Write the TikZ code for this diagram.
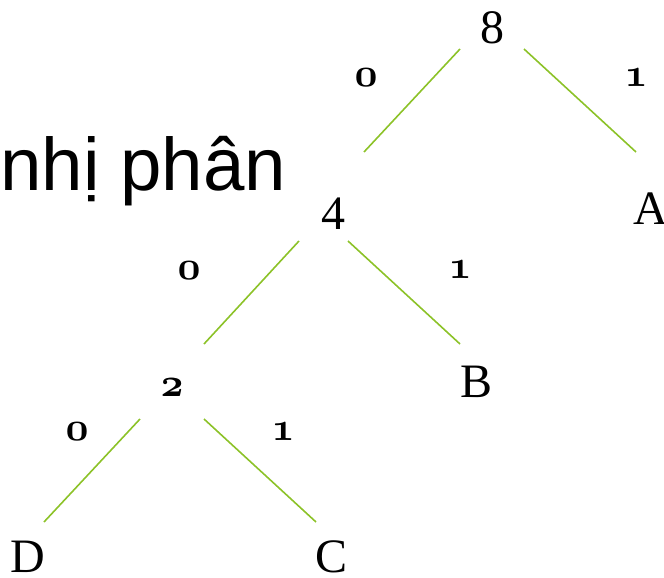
\documentclass[tikz,border=0pt]{standalone}
\usepackage{fontspec}
\newfontfamily\arialfont{Liberation Sans}
\newfontfamily\bigserif{Liberation Serif}
\definecolor{edgegreen}{RGB}{140,194,40}
\font\osbfont=cmmib10 at 40pt
\newcommand\osbold[1]{{\osbfont #1}}
\tikzset{
  big/.style={inner sep=0pt, font=\bigserif\fontsize{48}{50}\selectfont},
  bitlabel/.style={inner sep=0pt},
  edge/.style={draw=edgegreen, line width=1.6pt},
}
\begin{document}
\begin{tikzpicture}[x=1pt,y=-1pt]
\useasboundingbox (0,0) rectangle (664,578);
% title fragment
\node[inner sep=0pt, anchor=base west, font=\arialfont\fontsize{74.5}{76}\selectfont] (title) at (0,190) {nhị phân};
% tree nodes
\node[big] (n8) at (492,28) {8};
\node[big] (n4) at (333,214) {4};
\node[big] (nA) at (651,209) {A};
\node[inner sep=0pt] (n2) at (172,388) {\osbold{2}};
\node[big] (nB) at (477,382) {B};
\node[big] (nD) at (28,557) {D};
\node[big] (nC) at (332,557) {C};
% edge labels
\node[bitlabel] (l80) at (366,78) {\osbold{0}};
\node[bitlabel] (l81) at (636,78) {\osbold{1}};
\node[bitlabel] (l40) at (189,271) {\osbold{0}};
\node[bitlabel] (l41) at (460,270) {\osbold{1}};
\node[bitlabel] (l20) at (77,432) {\osbold{0}};
\node[bitlabel] (l21) at (283,432) {\osbold{1}};
% connector end points
\coordinate (n8-l) at (460,49);  \coordinate (n4-t) at (364,152);
\coordinate (n8-r) at (524,49);  \coordinate (nA-t) at (636,152);
\coordinate (n4-l) at (299,241); \coordinate (n2-t) at (204,344);
\coordinate (n4-r) at (348,241); \coordinate (nB-t) at (460,344);
\coordinate (n2-l) at (140,419); \coordinate (nD-t) at (44,522);
\coordinate (n2-r) at (204,419); \coordinate (nC-t) at (316,522);
% connectors
\draw[edge] (n8-l) -- (n4-t);
\draw[edge] (n8-r) -- (nA-t);
\draw[edge] (n4-l) -- (n2-t);
\draw[edge] (n4-r) -- (nB-t);
\draw[edge] (n2-l) -- (nD-t);
\draw[edge] (n2-r) -- (nC-t);
\end{tikzpicture}
\end{document}
